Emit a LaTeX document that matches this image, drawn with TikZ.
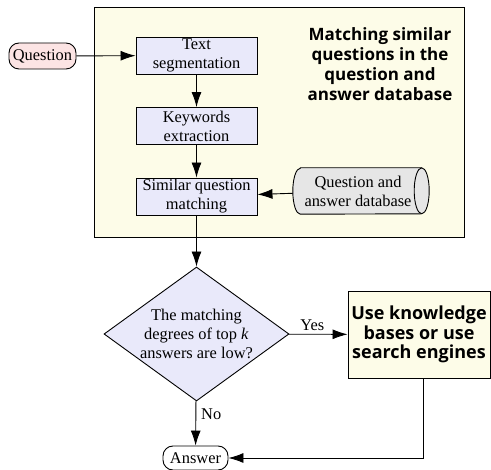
\documentclass[tikz,border=0pt]{standalone}
\usepackage{fontspec}
\setmainfont{Liberation Serif}
\newfontfamily\titlefont{Open Sans}
\usetikzlibrary{shapes.geometric,arrows.meta}
\definecolor{cream}{RGB}{253,252,232}
\definecolor{lav}{RGB}{233,233,250}
\definecolor{pinkq}{RGB}{252,228,228}
\definecolor{greyc}{RGB}{230,230,230}
\tikzset{
  conn/.style={draw=black, line width=0.9pt, -{Latex[length=15pt,width=10pt]}},
  procbox/.style={draw=black, line width=0.9pt, fill=lav, minimum width=121pt, minimum height=37pt, inner sep=0pt, align=center, font=\fontsize{16.4}{19}\selectfont},
  term/.style={draw=black, line width=0.9pt, rounded corners=10pt, inner sep=0pt, align=center, font=\fontsize{16.4}{19}\selectfont},
  lbl/.style={font=\fontsize{16.4}{19}\selectfont, inner sep=1pt},
  boldlbl/.style={align=center, font=\titlefont\bfseries\fontsize{17}{20}\selectfont, inner sep=0pt}
}
\begin{document}
\begin{tikzpicture}[x=1pt,y=-1pt]
\useasboundingbox (0,0) rectangle (491,470);
% big container
\node[draw=black, line width=0.9pt, fill=cream, minimum width=370pt, minimum height=230pt, inner sep=0pt] (group) at (279,122) {};
\node[boldlbl] (title) at (380,64.5) {Matching similar\\questions in the\\question and\\answer database};
% nodes
\node[term, fill=pinkq, minimum width=67pt, minimum height=26pt] (q) at (42.5,56) {Question};
\node[procbox] (seg) at (196.5,55.5) {Text\\segmentation};
\node[procbox] (kw) at (196.5,126) {Keywords\\extraction};
\node[procbox] (sim) at (196.5,196.5) {Similar question\\matching};
% database cylinder
\node[minimum width=136pt, minimum height=46pt, inner sep=0pt] (db) at (361,191) {};
\fill[greyc] ([xshift=7.5pt]db.north west) -- ([xshift=-7.5pt]db.north east)
  arc[start angle=90, end angle=-90, x radius=7.5pt, y radius=23pt]
  -- ([xshift=7.5pt]db.south west)
  arc[start angle=270, end angle=90, x radius=7.5pt, y radius=23pt] -- cycle;
\draw[line width=0.9pt] ([xshift=7.5pt]db.north west) -- ([xshift=-7.5pt]db.north east)
  arc[start angle=90, end angle=-90, x radius=7.5pt, y radius=23pt]
  -- ([xshift=7.5pt]db.south west)
  arc[start angle=270, end angle=90, x radius=7.5pt, y radius=23pt] -- cycle;
\draw[line width=0.9pt] ([xshift=-7.5pt]db.north east)
  arc[start angle=90, end angle=270, x radius=7.5pt, y radius=23pt];
\node[lbl, align=center] (dbtext) at ([xshift=-3pt]db.center) {Question and\\answer database};
% decision
\node[draw=black, line width=0.9pt, shape=diamond, fill=lav, minimum width=185pt, minimum height=134pt, inner sep=0pt] (dec) at (196.5,334) {};
\node[lbl, align=center] (dectext) at (dec.center) {The matching\\degrees of top \textit{k}\\answers are low?};
\node[draw=black, line width=0.9pt, fill=cream, minimum width=142pt, minimum height=87pt, inner sep=0pt, align=center, font=\titlefont\bfseries\fontsize{18}{19.5}\selectfont] (use) at (419,334.5) {Use knowledge\\bases or use\\search engines};
\node[term, fill=white, minimum width=65pt, minimum height=24pt] (ans) at (195.5,458) {Answer};
% connectors
\draw[conn] (q) -- (seg);
\draw[conn] (seg) -- (kw);
\draw[conn] (kw) -- (sim);
\draw[conn] (db) -- (sim);
\draw[conn] (sim) -- (dec);
\draw[conn] (dec) -- node[lbl, above, yshift=2pt, xshift=-6pt] {Yes} (use);
\draw[conn] (dec) -- node[lbl, right, xshift=4pt, yshift=9pt] {No} (ans);
\draw[conn] (use.south -| 423,0) |- (ans);
\end{tikzpicture}
\end{document}
